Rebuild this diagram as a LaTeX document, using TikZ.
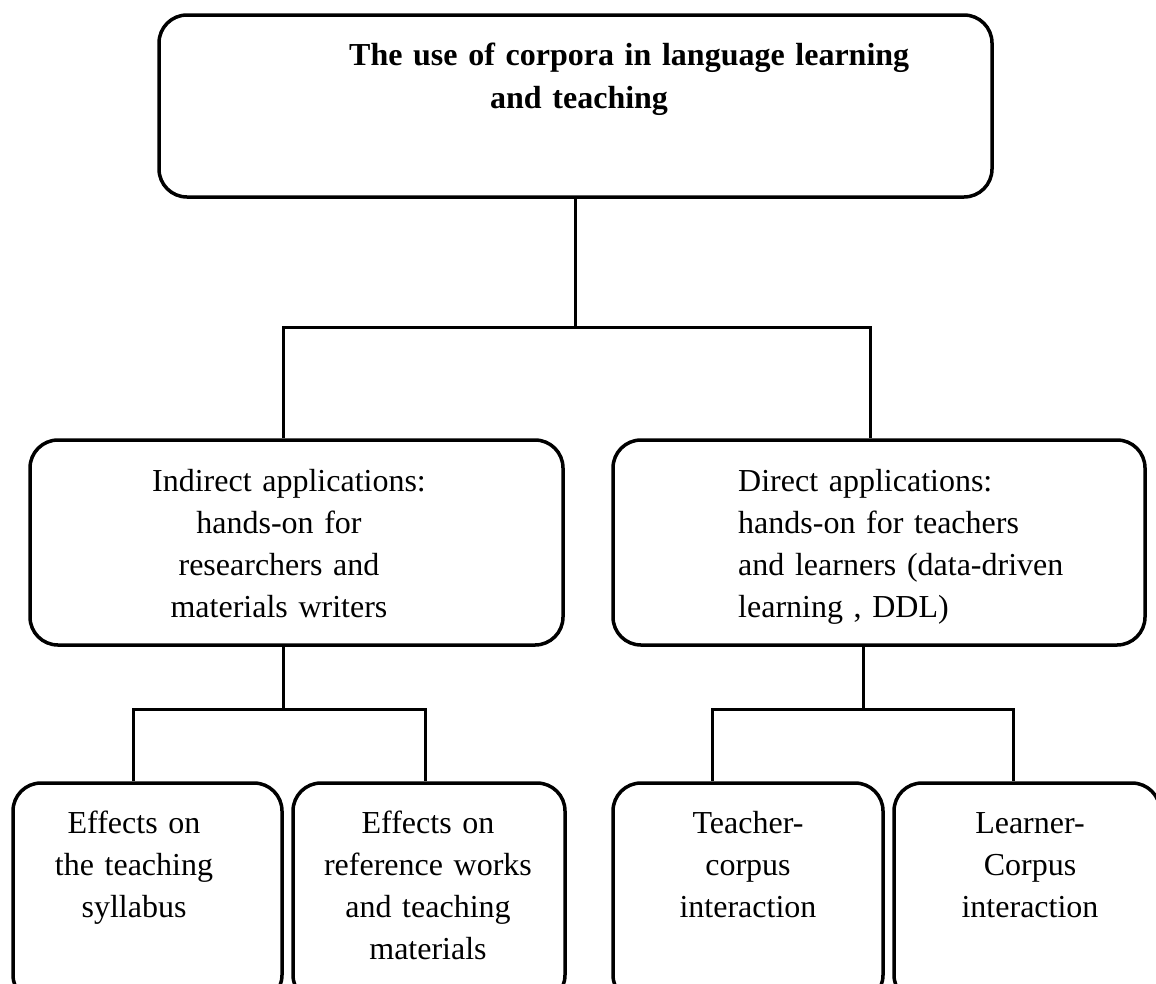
\documentclass[tikz,border=0pt]{standalone}
\usepackage{fontspec}
\setmainfont{Liberation Serif}
\usetikzlibrary{fit}

\tikzset{
  box/.style={draw, line width=3.5pt, rounded corners=28pt, inner sep=0pt},
  link/.style={line width=3pt},
  txt/.style={font=\fontsize{32}{42}\selectfont, inner sep=0pt},
  ctxt/.style={txt, text width=420pt, align=center, anchor=base},
  ltxt/.style={txt, text width=440pt, align=left, anchor=base west},
}

\begin{document}
\begin{tikzpicture}[x=1pt, y=-1pt]
  \useasboundingbox (0,0) rectangle (1156,983);
  \clip (0,0) rectangle (1156,983);

  % boxes
  \node[box, fit={(159,15) (992,197)}] (top) {};
  \node[box, fit={(30,440) (563,645)}] (indirect) {};
  \node[box, fit={(613,440) (1145,645)}] (direct) {};
  \node[box, fit={(13,783) (282,1003)}] (syllabus) {};
  \node[box, fit={(293,783) (565,1003)}] (reference) {};
  \node[box, fit={(613,783) (883,1003)}] (teacher) {};
  \node[box, fit={(894,783) (1160,1003)}] (learner) {};

  % texts
  \node[ltxt, text width=700pt, font=\fontsize{32}{43}\selectfont\bfseries] (ttop) at (349,65)
    {The use of corpora in language learning\\\hspace*{141pt}and teaching};
  \node[ctxt] (tindirect) at (279,491)
    {\hspace*{20pt}Indirect applications:\\hands-on for\\researchers and\\materials writers};
  \node[ltxt] (tdirect) at (738,491)
    {Direct applications:\\hands-on for teachers\\and learners (data-driven\\learning , DDL)};
  \node[ctxt] (tsyllabus) at (134,833) {Effects on\\the teaching\\syllabus};
  \node[ctxt] (treference) at (428,833) {Effects on\\reference works\\and teaching\\materials};
  \node[ctxt] (tteacher) at (748,833) {Teacher-\\corpus\\interaction};
  \node[ctxt] (tlearner) at (1030,833) {Learner-\\Corpus\\interaction};

  % branching points
  \coordinate (hubL) at (283,327);
  \coordinate (hubR) at (870,327);
  \coordinate (midL) at (283,709);
  \coordinate (midR) at (863,709);
  \coordinate (legA) at (133,709);
  \coordinate (legB) at (425,709);
  \coordinate (legC) at (712,709);
  \coordinate (legD) at (1013,709);

  % connectors
  \draw[link] (top.south) -- (top.south |- hubL);
  \draw[link] (hubL |- indirect.north) -- (hubL) -- (hubR) -- (hubR |- direct.north);

  \draw[link] (midL |- indirect.south) -- (midL);
  \draw[link] (legA |- syllabus.north) -- (legA) -- (legB) -- (legB |- reference.north);

  \draw[link] (midR |- direct.south) -- (midR);
  \draw[link] (legC |- teacher.north) -- (legC) -- (legD) -- (legD |- learner.north);
\end{tikzpicture}
\end{document}
